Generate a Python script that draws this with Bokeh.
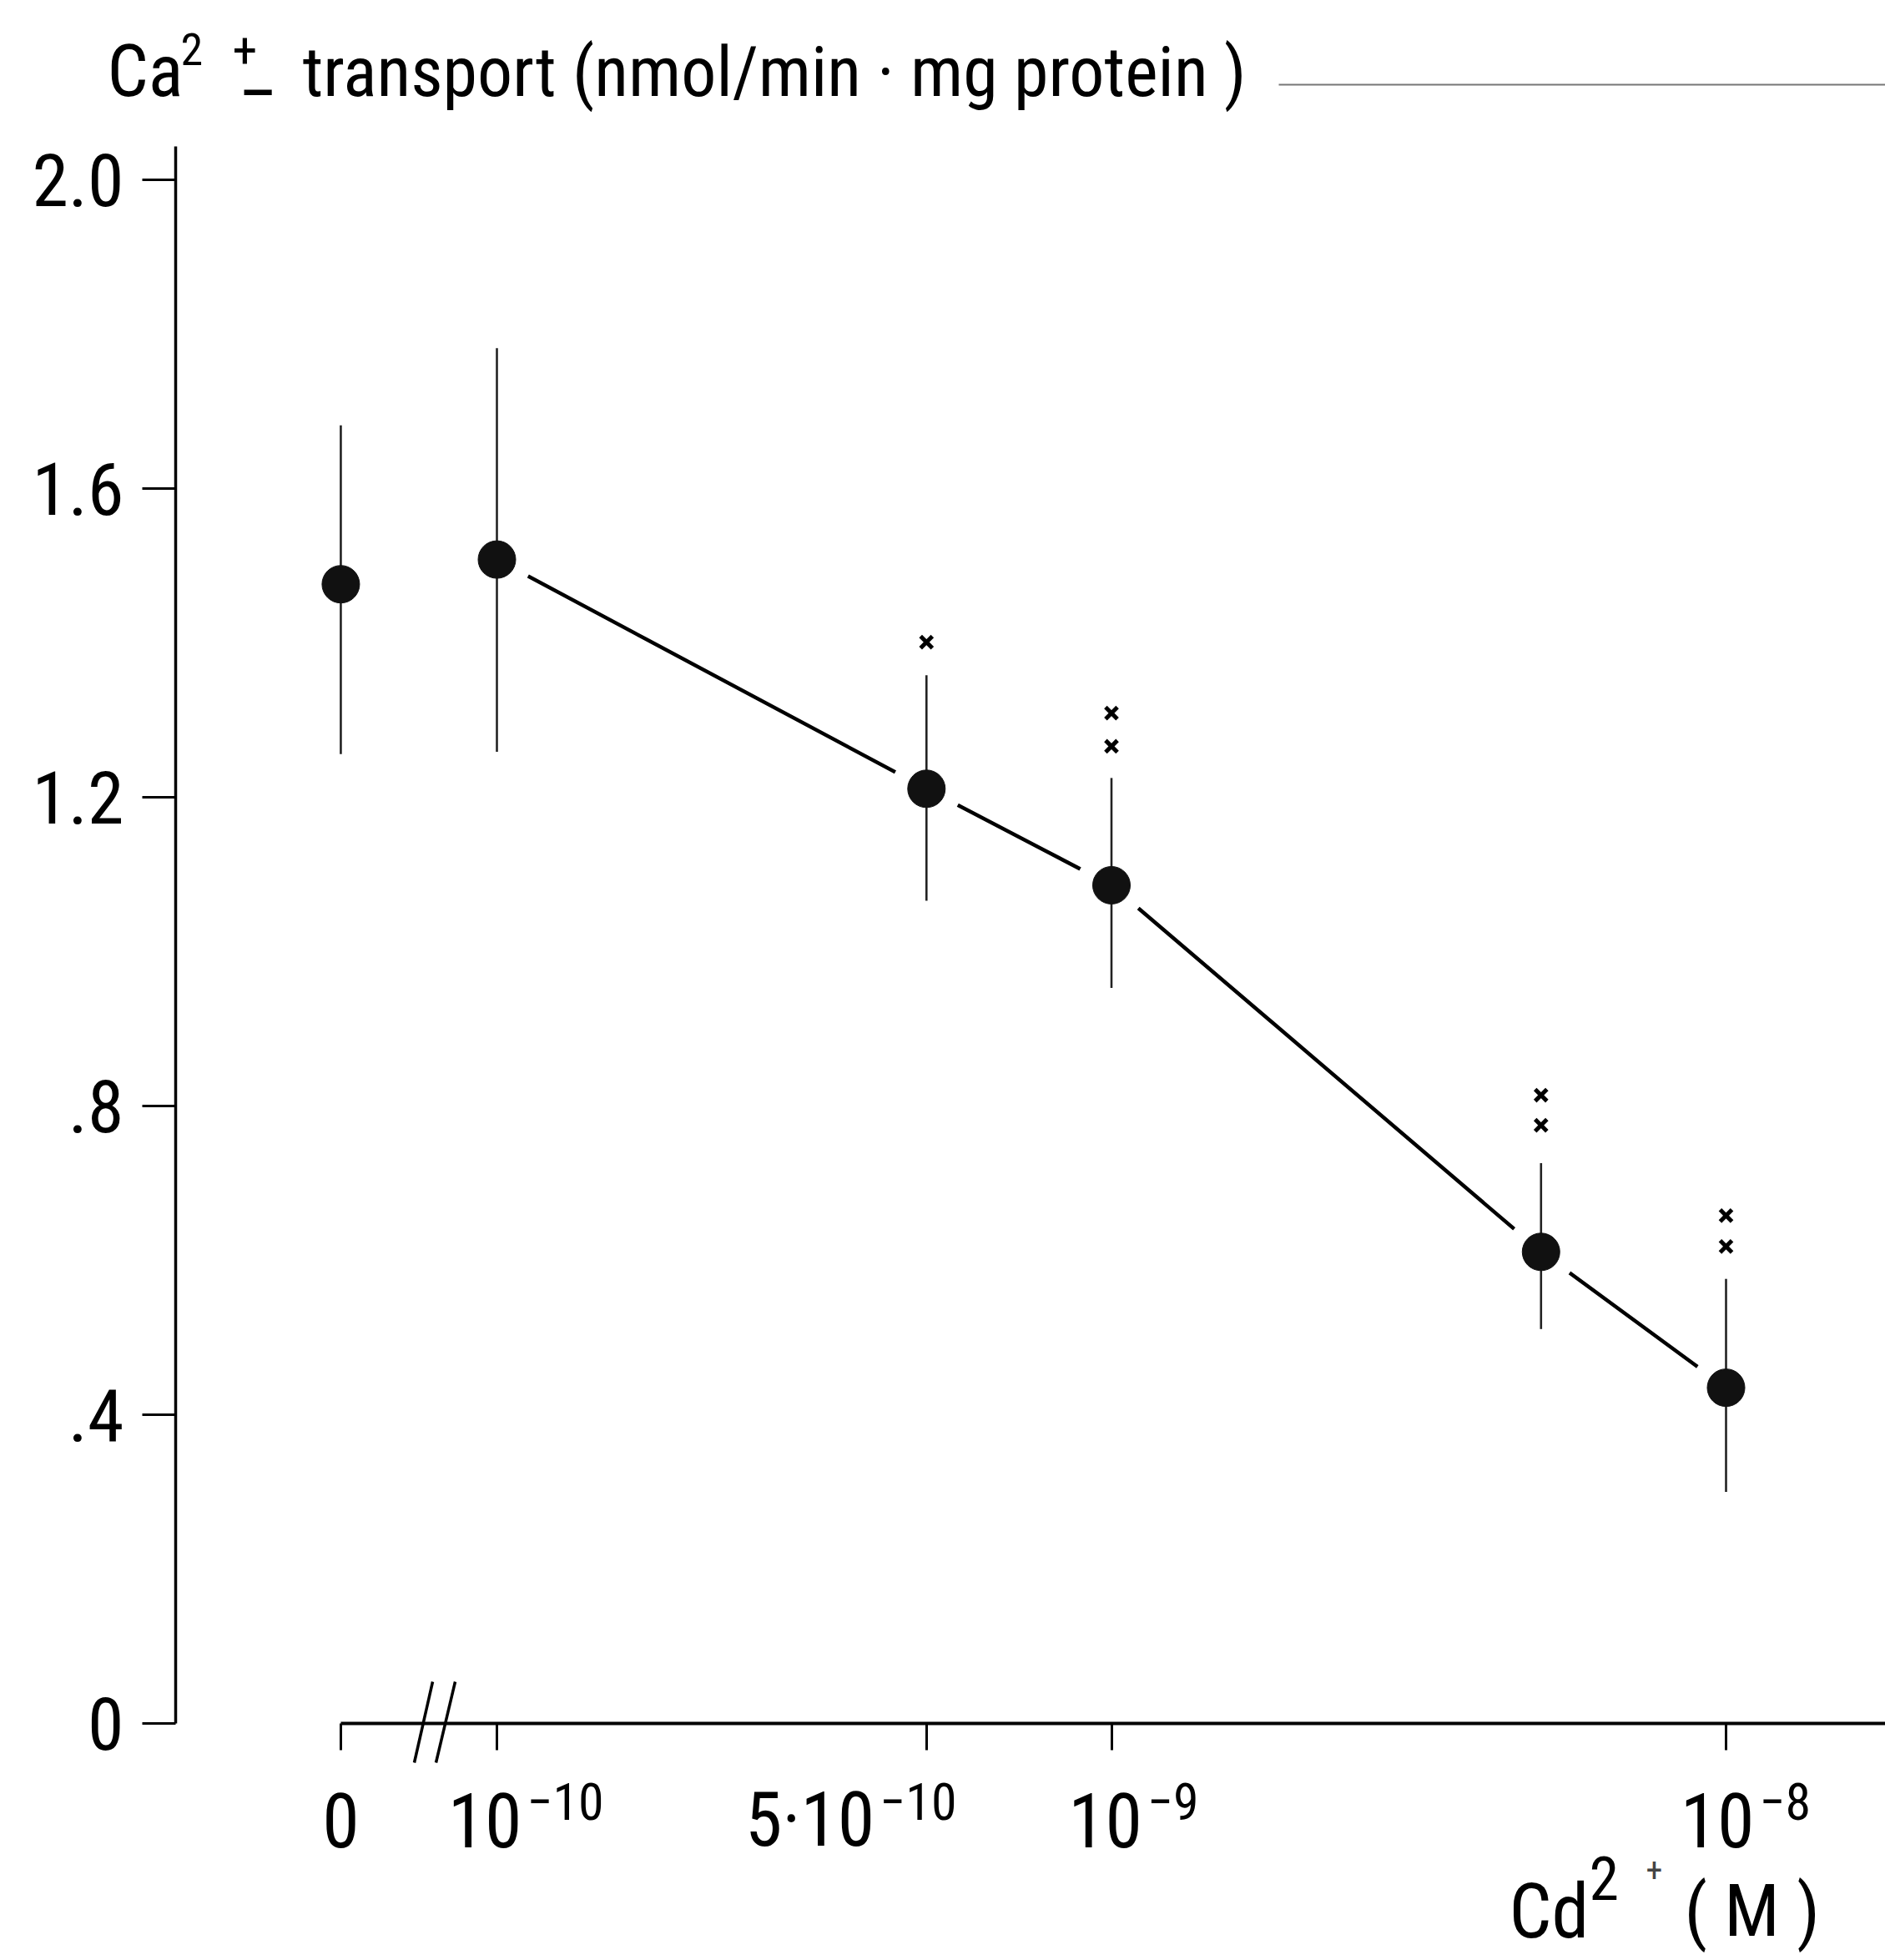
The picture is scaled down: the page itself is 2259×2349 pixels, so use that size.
import math
from bokeh.plotting import figure
from bokeh.models import Label, Arrow, FixedTicker, Range1d, CustomJSTickFormatter
from bokeh.embed import file_html
from bokeh.resources import INLINE

# ---------------- data ----------------
conc_M = [0, 1e-10, 5e-10, 1e-9, 5e-9, 1e-8]
ca_transport = [1.476, 1.508, 1.211, 1.086, 0.611, 0.435]
err_upper = [1.682, 1.782, 1.358, 1.225, 0.726, 0.576]
err_lower = [1.256, 1.259, 1.066, 0.953, 0.511, 0.300]
sig_conc = [5e-10, 1e-9, 1e-9, 5e-9, 5e-9, 1e-8, 1e-8]
sig_y = [1.401, 1.309, 1.266, 0.814, 0.775, 0.658, 0.618]
x_ticks = [0, 1e-10, 5e-10, 1e-9, 1e-8]
x_tick_base = ["0", "10", "5·10", "10", "10"]
x_tick_exp = ["", "−10", "−10", "−9", "−8"]
y_ticks = [0, 0.4, 0.8, 1.2, 1.6, 2.0]
y_tick_labels = ["0", ".4", ".8", "1.2", "1.6", "2.0"]

ZERO_POS = -10.254  # position of "0" on the broken log axis


def xpos(c):
    return ZERO_POS if c == 0 else math.log10(c)


# ---------------- layout (page px) ----------------
W, H = 2259, 2349
DEC_PX = 736.5      # pixels per decade
X_M10_PX = 595      # page x of 1e-10
Y0_PX = 2065        # page y of value 0
UNIT_PX = 925       # pixels per unit of transport
YAXIS_PX = 210
YAXIS_TOP_PX = 175
BASE_SHIFT = 0.35   # empirical baseline correction (fraction of font size)


def px(xp):
    return -10 + (xp - X_M10_PX) / DEC_PX


def py(yp):
    return (Y0_PX - yp) / UNIT_PX


def by(baseline_px, size):
    return py(baseline_px - BASE_SHIFT * size)


FONT = "Roboto Condensed"

p = figure(width=W, height=H, output_backend="svg", toolbar_location=None,
           x_range=Range1d(px(0), px(W)), y_range=Range1d(py(H), py(0)),
           min_border=0)
p.grid.visible = False
p.outline_line_color = None
p.background_fill_color = "white"
p.border_fill_color = "white"

# y axis
ya = p.yaxis[0]
ya.fixed_location = px(YAXIS_PX)
ya.bounds = (0, py(YAXIS_TOP_PX))
ya.ticker = FixedTicker(ticks=y_ticks)
ya.major_label_overrides = {t: l for t, l in zip(y_ticks, y_tick_labels)}
ya.axis_line_width = 3.5
ya.axis_line_color = "black"
ya.major_tick_line_width = 3
ya.major_tick_out = 40
ya.major_tick_in = 0
ya.minor_tick_line_color = None
ya.major_label_standoff = 22
ya.major_label_text_font = FONT
ya.major_label_text_font_size = "88px"
ya.major_label_text_color = "black"

# x axis (labels drawn as annotations for superscripts)
xa = p.xaxis[0]
xa.fixed_location = 0
xa.bounds = (ZERO_POS, px(W))
xa.ticker = FixedTicker(ticks=[xpos(c) for c in x_ticks])
xa.formatter = CustomJSTickFormatter(code="return ''")
xa.axis_line_width = 4
xa.axis_line_color = "black"
xa.major_tick_line_width = 3
xa.major_tick_out = 32
xa.major_tick_in = 0
xa.minor_tick_line_color = None

xs = [xpos(c) for c in conc_M]

# connecting line (not through the 0 point)
p.line(xs[1:], ca_transport[1:], line_width=4.5, line_color="black")
# white halos that create the gaps around markers
p.scatter(xs, ca_transport, size=85, fill_color="white", line_color=None)
# error bars
p.segment(x0=xs, y0=err_lower, x1=xs, y1=err_upper, line_width=2.6, line_color="#222222")
# markers
p.scatter(xs, ca_transport, size=45, fill_color="#111111", line_color="#111111")
# significance marks
p.scatter([xpos(c) for c in sig_conc], sig_y, marker="x", size=20, line_width=5, line_color="black")

# axis break
for xb, xt in [(496, 518), (522, 545)]:
    p.add_layout(Arrow(end=None, x_start=px(xb), y_start=py(2112), x_end=px(xt), y_end=py(2015),
                       line_width=3.5, line_color="black"))


def add_label(x, baseline_px, text, size, align="left", x_offset=0, color="black"):
    p.add_layout(Label(x=x, y=by(baseline_px, size), x_offset=x_offset, text=text,
                       text_align=align, text_baseline="alphabetic", text_font=FONT,
                       text_font_size=f"{size}px", text_color=color))


# x tick labels
LABEL_SHIFT = [0, 30, -62, 37, 34]
for c, base, exp, sh in zip(x_ticks, x_tick_base, x_tick_exp, LABEL_SHIFT):
    xt = xpos(c)
    if exp == "":
        add_label(xt, 2212, base, 90, align="center")
    else:
        add_label(xt, 2212, base, 90, align="right", x_offset=sh)
        add_label(xt, 2180, exp, 62, align="left", x_offset=sh + 6)

# x axis title
add_label(px(1808), 2322, "Cd", 90)
add_label(px(1904), 2276, "2", 72)
add_label(px(1972), 2254, "+", 40, color="#444444")
add_label(px(2018), 2320, "( M )", 88)

# y axis title
add_label(px(128), 115, "Ca", 87)
add_label(px(216), 77, "2", 54)
add_label(px(278), 80, "+", 60)
add_label(px(291), 108, "_", 87)
add_label(px(362), 115, "transport (nmol/min · mg protein )", 84)
p.add_layout(Arrow(end=None, x_start=px(1532), y_start=py(101), x_end=px(W), y_end=py(101),
                   line_width=2, line_color="#777777"))

open("out.html", "w").write(file_html(p, INLINE))
